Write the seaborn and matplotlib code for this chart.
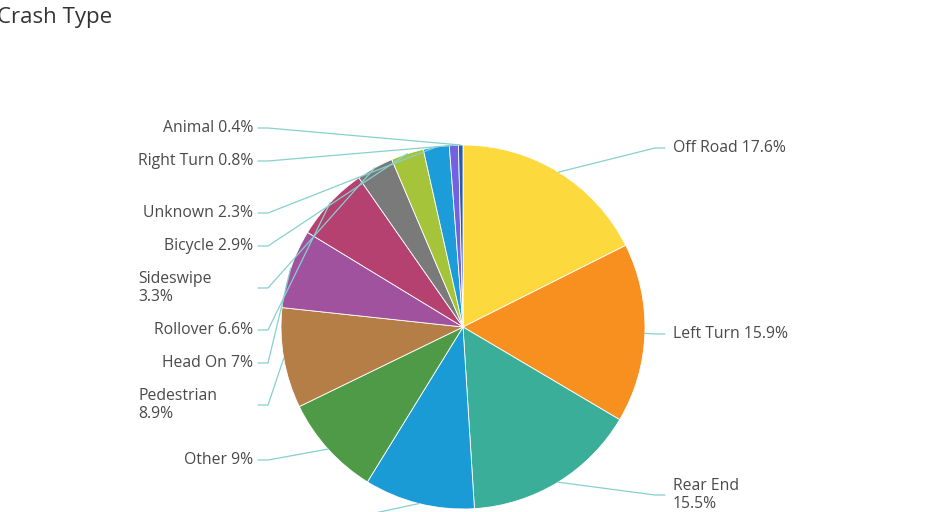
import numpy as np
import matplotlib.pyplot as plt
import seaborn as sns

# Crash type shares (%), clockwise from 12 o'clock
crash_types = ["Off Road", "Left Turn", "Rear End", "Angle", "Other", "Pedestrian",
               "Head On", "Rollover", "Sideswipe", "Bicycle", "Unknown",
               "Right Turn", "Animal"]
percents = [17.6, 15.9, 15.5, 9.8, 9.0, 8.9, 7.0, 6.6, 3.3, 2.9, 2.3, 0.8, 0.4]
slice_colors = ["#FCD93C", "#F7901E", "#3AAE98", "#1A9BD6", "#4F9A46", "#B67E47",
                "#A0529F", "#B4416F", "#7A7A7A", "#A5C43A", "#1C9CD8", "#7262E0",
                "#2A5BA8"]
two_line = ["Rear End", "Sideswipe", "Pedestrian"]

# label rows in pixels from the top (layout only); "Angle" sits below the visible area
label_rows = [148, 334, 495, 536, 460, 405, 363, 330, 288, 246, 213, 161, 128]

sns.set_style("white")
plt.rcParams["font.family"] = ["Open Sans", "DejaVu Sans"]

W, H = 935, 512
fig = plt.figure(figsize=(W / 100, H / 100), dpi=100)
ax = fig.add_axes([0, 0, 1, 1])

cx, cy, r = 463, H - 327, 182
wedges, _ = ax.pie(percents, colors=slice_colors, startangle=90, counterclock=False,
                   center=(cx, cy), radius=r,
                   wedgeprops=dict(edgecolor="white", linewidth=0.6))
ax.set_xlim(0, W)
ax.set_ylim(0, H)
ax.set_aspect("equal")
ax.axis("off")

text_col = "#4a4a4a"
line_col = "#86d0d0"
fs = 11.3

for w, name, pct, row in zip(wedges, crash_types, percents, label_rows):
    ang = np.deg2rad((w.theta1 + w.theta2) / 2)
    ex, ey = cx + r * np.cos(ang), cy + r * np.sin(ang)
    ly = H - row
    if name in two_line:
        txt = f"{name}\n{pct:g}%"
    else:
        txt = f"{name} {pct:g}%"
    if ex > cx:
        ax.plot([ex, 655, 665], [ey, ly, ly], color=line_col, lw=0.9)
        ax.text(673, ly, txt, ha="left", va="center", fontsize=fs,
                color=text_col, linespacing=1.2)
    else:
        ax.plot([ex, 268, 258], [ey, ly, ly], color=line_col, lw=0.9)
        if name in two_line:
            ax.text(138, ly, txt, ha="left", va="center", fontsize=fs,
                    color=text_col, linespacing=1.2)
        else:
            ax.text(253, ly, txt, ha="right", va="center", fontsize=fs,
                    color=text_col)

fig.text(-3 / W, 1 - 17 / H, "Crash Type", ha="left", va="center",
         fontsize=16, color="#333333")

fig.savefig("out.png", dpi=100)
